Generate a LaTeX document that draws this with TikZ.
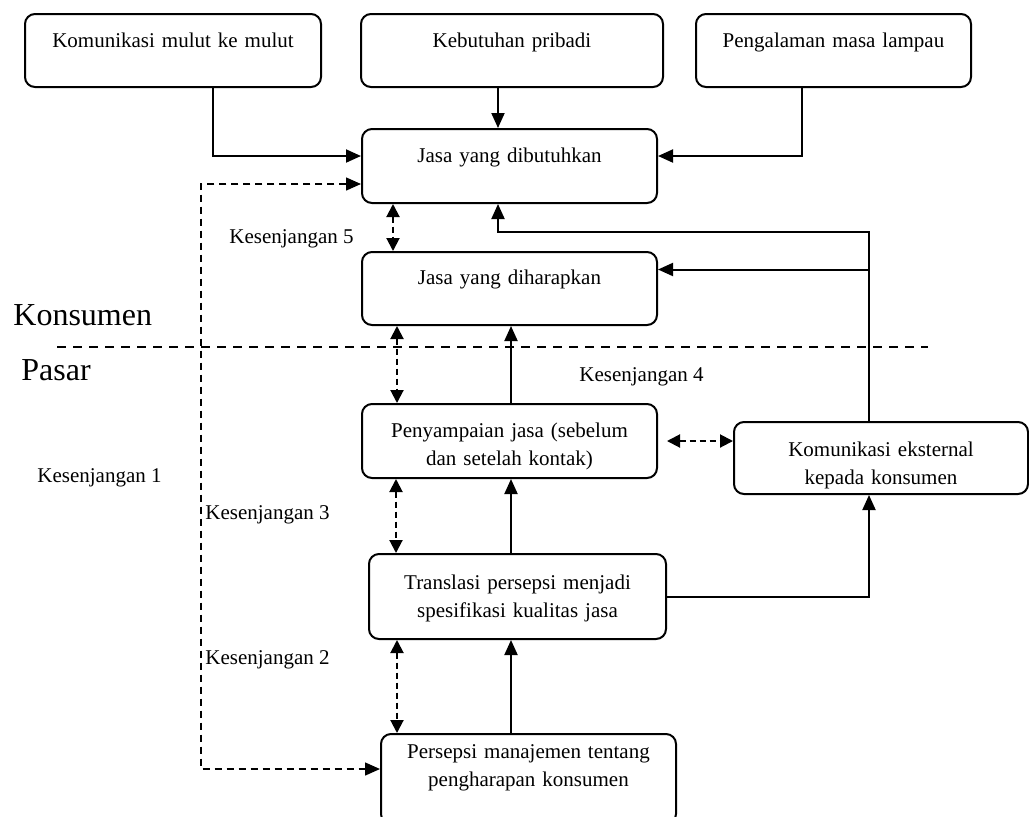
\documentclass[tikz,border=0pt]{standalone}
\usepackage{fontspec}
\setmainfont{Liberation Serif}
\usetikzlibrary{calc,positioning,arrows.meta}

\begin{document}
\begin{tikzpicture}[x=0.5pt, y=-0.5pt,
 box/.style = {draw, rounded corners=5pt, line width=1pt, inner sep=0pt, anchor=north west, align=center, font=\fontsize{10.5}{14}\selectfont},
 arr/.style = {-{Triangle[length=7.5pt,width=6.5pt]}, line width=1pt},
 darr/.style = {{Triangle[length=6.5pt,width=6.5pt]}-{Triangle[length=6.5pt,width=6.5pt]}, line width=1pt, dash pattern=on 3pt off 2pt},
 larr/.style = {{Triangle[length=7.5pt,width=6.5pt]}-{Triangle[length=7.5pt,width=6.5pt]}, line width=0.75pt, dash pattern=on 3.5pt off 2.5pt},
 sep/.style = {line width=0.9pt, dash pattern=on 4.5pt off 3.5pt},
 lbl/.style = {anchor=base west, inner sep=0pt, font=\fontsize{10.5}{14}\selectfont},
 big/.style = {anchor=base west, inner sep=0pt, font=\fontsize{16}{18}\selectfont}]
\useasboundingbox (0,0) rectangle (1029,816);
\clip (0,0) rectangle (1029,816);

% sisi konsumen
\node[box, text width=148pt, text height=16.5pt, text depth=20pt] (kom) at (24,13) {Komunikasi mulut ke mulut};
\node[box, text width=151pt, text height=16.5pt, text depth=20pt] (keb) at (360,13) {Kebutuhan pribadi};
\node[box, text width=137.5pt, text height=16.5pt, text depth=20pt] (pen) at (695,13) {Pengalaman masa lampau};
\node[box, text width=147.5pt, text height=16.5pt, text depth=20.5pt] (jdb) at (361,128) {Jasa yang dibutuhkan};
\node[box, text width=147.5pt, text height=16pt, text depth=20.5pt] (jdh) at (361,251) {Jasa yang diharapkan};

% sisi pasar
\node[box, text width=147.5pt, text height=16.5pt, text depth=20.5pt] (pj) at (361,403) {Penyampaian jasa (sebelum\\ dan setelah kontak)};
\node[box, text width=147pt, text height=17pt, text depth=19pt] (ke) at (733,421) {Komunikasi eksternal\\ kepada konsumen};
\node[box, text width=148.5pt, text height=17.5pt, text depth=25pt] (tr) at (368,553) {Translasi persepsi menjadi\\ spesifikasi kualitas jasa};
\node[box, text width=147.5pt, text height=12pt, text depth=33pt] (pm) at (380,733) {Persepsi manajemen tentang\\ pengharapan konsumen};

\node[big] (kons) at (13,325) {Konsumen};
\node[big] (psr) at (21,380) {Pasar};
\node[lbl] (k1) at (37,482) {Kesenjangan 1};
\node[lbl] (k2) at (205,664) {Kesenjangan 2};
\node[lbl] (k3) at (205,519) {Kesenjangan 3};
\node[lbl] (k4) at (579,381) {Kesenjangan 4};
\node[lbl] (k5) at (229,243) {Kesenjangan 5};

\draw[sep] (57,347) -- (928,347);

% panah
\draw[arr] ($(kom.south west)+(189,0)$) |- ($(jdb.west)+(0,-10)$);
\draw[arr] ($(keb.south west)+(138,0)$) -- ($(jdb.north west)+(137,0)$);
\draw[arr] ($(pen.south west)+(107,0)$) |- ($(jdb.east)+(0,-10)$);
\coordinate (kx) at ($(ke.north west)+(136,0)$);
\coordinate (jy) at ($(jdh.east)+(0,-19)$);
\draw[arr] (kx) |- ($(jdb.south west)+(137,28)$) -- ($(jdb.south west)+(137,0)$);
\draw[arr] (kx |- jy) -- (jy);
\draw[arr] ($(pj.north west)+(150,0)$) -- ($(jdh.south west)+(150,0)$);
\draw[arr] ($(tr.north west)+(143,0)$) -- ($(pj.south west)+(150,0)$);
\draw[arr] ($(pm.north west)+(131,0)$) -- ($(tr.south west)+(143,0)$);
\draw[arr] ($(tr.north east)+(0,44)$) -| ($(ke.south west)+(136,0)$);

% kesenjangan
\draw[darr] ($(jdb.south west)+(32,0)$) -- ($(jdh.north west)+(32,0)$);
\draw[darr] ($(jdh.south west)+(36,0)$) -- ($(pj.north west)+(36,0)$);
\draw[darr] ($(pj.south west)+(35,0)$) -- ($(tr.north west)+(28,0)$);
\draw[darr] ($(tr.south west)+(29,0)$) -- ($(pm.north west)+(17,0)$);
\draw[darr] ($(pj.north east)+(9,38)$) -- ($(ke.north west)+(0,20)$);
\draw[larr] ($(jdb.north west)+(0,56)$) -| ($(pm.north west)+(-179,36)$) -- ($(pm.north west)+(0,36)$);
\end{tikzpicture}
\end{document}
